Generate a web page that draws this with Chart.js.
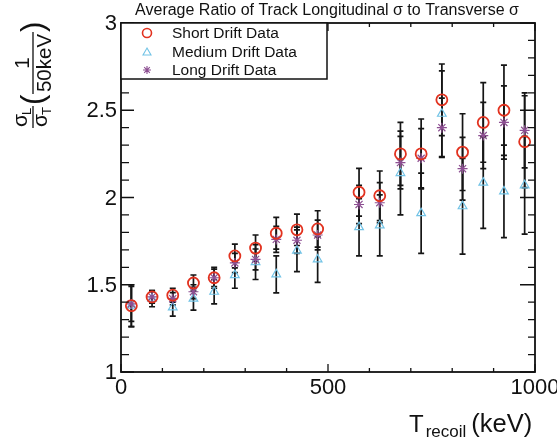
<!DOCTYPE html>
<html>
<head>
<meta charset="utf-8">
<script src="https://cdn.jsdelivr.net/npm/chart.js@4.4.0/dist/chart.umd.min.js"></script>
<style>
  html, body { margin: 0; padding: 0; background: #fff; }
  #wrap { width: 557px; height: 444px; }
</style>
</head>
<body>
<div id="wrap"><canvas id="ratioChart"></canvas></div>
<script>
/* ============================
   DATA
============================ */
const energies = [25, 75, 125, 175, 225, 275, 325, 375, 425, 475,
                  575, 625, 675, 725, 775, 825, 875, 925, 975];

const shortDrift = [1.38, 1.43, 1.44, 1.51, 1.54, 1.665, 1.71, 1.795, 1.815, 1.82,
                    2.03, 2.01, 2.25, 2.25, 2.56, 2.26, 2.43, 2.50, 2.32];
const shortErr = [0.12, 0.036, 0.04, 0.046, 0.06, 0.068, 0.075, 0.091, 0.09, 0.104,
                  0.137, 0.142, 0.18, 0.20, 0.205, 0.22, 0.228, 0.259, 0.263];

const mediumDrift = [1.38, 1.42, 1.37, 1.42, 1.46, 1.555, 1.63, 1.56, 1.695, 1.645,
                     1.83, 1.84, 2.14, 1.91, 2.48, 1.95, 2.085, 2.035, 2.07];
const mediumErr = [0.12, 0.046, 0.05, 0.065, 0.07, 0.075, 0.10, 0.106, 0.12, 0.131,
                   0.164, 0.175, 0.24, 0.23, 0.246, 0.274, 0.262, 0.265, 0.28];

const longDrift = [1.39, 1.43, 1.42, 1.46, 1.54, 1.625, 1.645, 1.76, 1.755, 1.785,
                   1.96, 1.97, 2.2, 2.225, 2.40, 2.165, 2.355, 2.43, 2.385];
const longErr = [0.10, 0.03, 0.035, 0.04, 0.05, 0.055, 0.06, 0.075, 0.075, 0.085,
                 0.11, 0.115, 0.15, 0.17, 0.17, 0.18, 0.19, 0.21, 0.215];

const xMajorTicks = [0, 500, 1000];
const xTickLabels = ["0", "500", "1000"];
const yMajorTicks = [1, 1.5, 2, 2.5, 3];
const yTickLabels = ["1", "1.5", "2", "2.5", "3"];

const seriesNames = ["Short Drift Data", "Medium Drift Data", "Long Drift Data"];
const titleText = "Average Ratio of Track Longitudinal \u03c3 to Transverse \u03c3";

const FONT = "'Liberation Sans', Arial, Helvetica, sans-serif";
const RED = "#e2321f";
const BLUE = "#72c3e6";
const PURPLE = "#8d4f92";

/* ============================
   HELPERS
============================ */
function toPoints(vals) {
  return energies.map((e, i) => ({ x: e, y: vals[i] }));
}

/* error bars, drawn under the markers */
const errorBars = {
  id: "errorBars",
  beforeDatasetsDraw(chart) {
    const { ctx, scales: { x, y } } = chart;
    const sets = [[shortDrift, shortErr], [mediumDrift, mediumErr], [longDrift, longErr]];
    ctx.save();
    ctx.strokeStyle = "#151515";
    ctx.lineWidth = 1.7;
    sets.forEach(([vals, errs]) => {
      vals.forEach((v, i) => {
        const px = x.getPixelForValue(energies[i]);
        const top = y.getPixelForValue(v + errs[i]);
        const bot = y.getPixelForValue(v - errs[i]);
        ctx.beginPath();
        ctx.moveTo(px, top); ctx.lineTo(px, bot);
        ctx.moveTo(px - 3, top); ctx.lineTo(px + 3, top);
        ctx.moveTo(px - 3, bot); ctx.lineTo(px + 3, bot);
        ctx.stroke();
      });
    });
    ctx.restore();
  },
};

/* frame, inward ticks, tick labels, titles, legend */
const frame = {
  id: "frame",
  afterDatasetsDraw(chart) {
    const { ctx, chartArea: a, scales: { x, y } } = chart;
    ctx.save();
    ctx.strokeStyle = "#111";
    ctx.lineWidth = 1.8;
    ctx.strokeRect(a.left, a.top, a.right - a.left, a.bottom - a.top);

    ctx.lineWidth = 1.3;
    ctx.beginPath();
    // y ticks every 0.1, major every 0.5
    for (let k = 10; k <= 30; k++) {
      const v = k / 10;
      const py = y.getPixelForValue(v);
      const major = yMajorTicks.includes(v);
      const lenL = major ? 13 : 8;
      const lenR = major ? 15 : 7;
      ctx.moveTo(a.left, py); ctx.lineTo(a.left + lenL, py);
      ctx.moveTo(a.right, py); ctx.lineTo(a.right - lenR, py);
    }
    // x ticks every 100, major every 500
    for (let k = 0; k <= 10; k++) {
      const v = k * 100;
      const px = x.getPixelForValue(v);
      const major = xMajorTicks.includes(v);
      ctx.moveTo(px, a.bottom); ctx.lineTo(px, a.bottom - (major ? 8 : 4));
      ctx.moveTo(px, a.top); ctx.lineTo(px, a.top + (major ? 8 : 4));
    }
    ctx.stroke();

    // tick labels
    ctx.fillStyle = "#111";
    ctx.font = "22px " + FONT;
    ctx.textAlign = "right";
    ctx.textBaseline = "middle";
    yMajorTicks.forEach((v, i) => {
      ctx.fillText(yTickLabels[i], a.left - 4, y.getPixelForValue(v) + 1);
    });
    ctx.textAlign = "center";
    ctx.textBaseline = "top";
    xMajorTicks.forEach((v, i) => {
      ctx.fillText(xTickLabels[i], x.getPixelForValue(v), a.bottom + 5);
    });
    ctx.restore();
  },
  afterDraw(chart) {
    const { ctx, chartArea: a } = chart;
    ctx.save();
    ctx.fillStyle = "#111";
    ctx.strokeStyle = "#111";

    // title
    ctx.font = "16px " + FONT;
    ctx.textAlign = "center";
    ctx.textBaseline = "alphabetic";
    ctx.fillText(titleText, 327, 15);

    // x axis title: T_recoil (keV)
    ctx.textAlign = "left";
    ctx.font = "24px " + FONT;
    let tx = 409;
    ctx.fillText("T", tx, 432);
    tx += ctx.measureText("T").width + 2;
    ctx.font = "17px " + FONT;
    ctx.fillText("recoil", tx, 437);
    tx += ctx.measureText("recoil").width + 5;
    ctx.font = "25.5px " + FONT;
    ctx.fillText("(keV)", tx, 432);

    // y axis title: sigma_L / sigma_T ( 1 / 50keV ), rotated
    ctx.translate(33, 127);
    ctx.rotate(-Math.PI / 2);
    ctx.lineWidth = 1.3;
    ctx.textAlign = "left";
    ctx.font = "21px " + FONT;
    ctx.fillText("\u03c3", 0, -6);
    ctx.fillText("\u03c3", 0, 14);
    ctx.font = "13px " + FONT;
    ctx.fillText("L", 12, -2);
    ctx.fillText("T", 12, 18);
    ctx.beginPath();
    ctx.moveTo(-1, 0); ctx.lineTo(21, 0);
    ctx.moveTo(33, 0); ctx.lineTo(95, 0);
    ctx.stroke();
    ctx.font = "31px " + FONT;
    ctx.textBaseline = "middle";
    ctx.fillText("(", 22, 1);
    ctx.fillText(")", 95, 1);
    ctx.textBaseline = "alphabetic";
    ctx.textAlign = "center";
    ctx.font = "20.5px " + FONT;
    ctx.fillText("1", 64, -4);
    ctx.fillText("50keV", 64, 18);
    ctx.setTransform(1, 0, 0, 1, 0, 0);

    // legend box
    const lx = a.left, ly = a.top, lw = 206, lh = 56;
    ctx.fillStyle = "#fff";
    ctx.fillRect(lx, ly, lw, lh);
    ctx.lineWidth = 1.5;
    ctx.strokeRect(lx, ly, lw, lh);
    const rows = [ly + 10, ly + 29, ly + 47];
    const mx = lx + 26;
    // circle
    ctx.strokeStyle = RED; ctx.lineWidth = 1.6;
    ctx.beginPath(); ctx.arc(mx, rows[0], 4.5, 0, Math.PI * 2); ctx.stroke();
    // triangle
    ctx.strokeStyle = BLUE; ctx.lineWidth = 1.1;
    ctx.beginPath();
    ctx.moveTo(mx, rows[1] - 4); ctx.lineTo(mx + 4, rows[1] + 3); ctx.lineTo(mx - 4, rows[1] + 3);
    ctx.closePath(); ctx.stroke();
    // star
    ctx.strokeStyle = PURPLE; ctx.lineWidth = 1.1;
    ctx.beginPath();
    for (let k = 0; k < 4; k++) {
      const ang = k * Math.PI / 4;
      ctx.moveTo(mx - 4 * Math.cos(ang), rows[2] - 4 * Math.sin(ang));
      ctx.lineTo(mx + 4 * Math.cos(ang), rows[2] + 4 * Math.sin(ang));
    }
    ctx.stroke();
    ctx.fillStyle = "#111";
    ctx.font = "15.5px " + FONT;
    ctx.textAlign = "left";
    ctx.textBaseline = "middle";
    seriesNames.forEach((n, i) => ctx.fillText(n, lx + 51, rows[i] + 1));
    ctx.restore();
  },
};

/* ============================
   CHART
============================ */
const ctx = document.getElementById("ratioChart").getContext("2d");

new Chart(ctx, {
  type: "scatter",
  data: {
    datasets: [
      {
        label: seriesNames[1],
        data: toPoints(mediumDrift),
        pointStyle: "triangle",
        pointRadius: 5,
        borderColor: BLUE,
        backgroundColor: "rgba(0,0,0,0)",
        borderWidth: 1.2,
        order: 3,
      },
      {
        label: seriesNames[2],
        data: toPoints(longDrift),
        pointStyle: "star",
        pointRadius: 5,
        borderColor: PURPLE,
        backgroundColor: "rgba(0,0,0,0)",
        borderWidth: 1.2,
        order: 2,
      },
      {
        label: seriesNames[0],
        data: toPoints(shortDrift),
        pointStyle: "circle",
        pointRadius: 5.5,
        borderColor: RED,
        backgroundColor: "rgba(0,0,0,0)",
        borderWidth: 1.8,
        order: 1,
      },
    ],
  },
  options: {
    responsive: true,
    maintainAspectRatio: false,
    animation: false,
    devicePixelRatio: 1,
    clip: false,
    layout: { padding: { left: 121, right: 22, top: 23, bottom: 72 } },
    scales: {
      x: { type: "linear", min: 0, max: 1000, display: false },
      y: { type: "linear", min: 1, max: 3, display: false },
    },
    plugins: {
      legend: { display: false },
      tooltip: { enabled: false },
    },
  },
  plugins: [errorBars, frame],
});
</script>
</body>
</html>
